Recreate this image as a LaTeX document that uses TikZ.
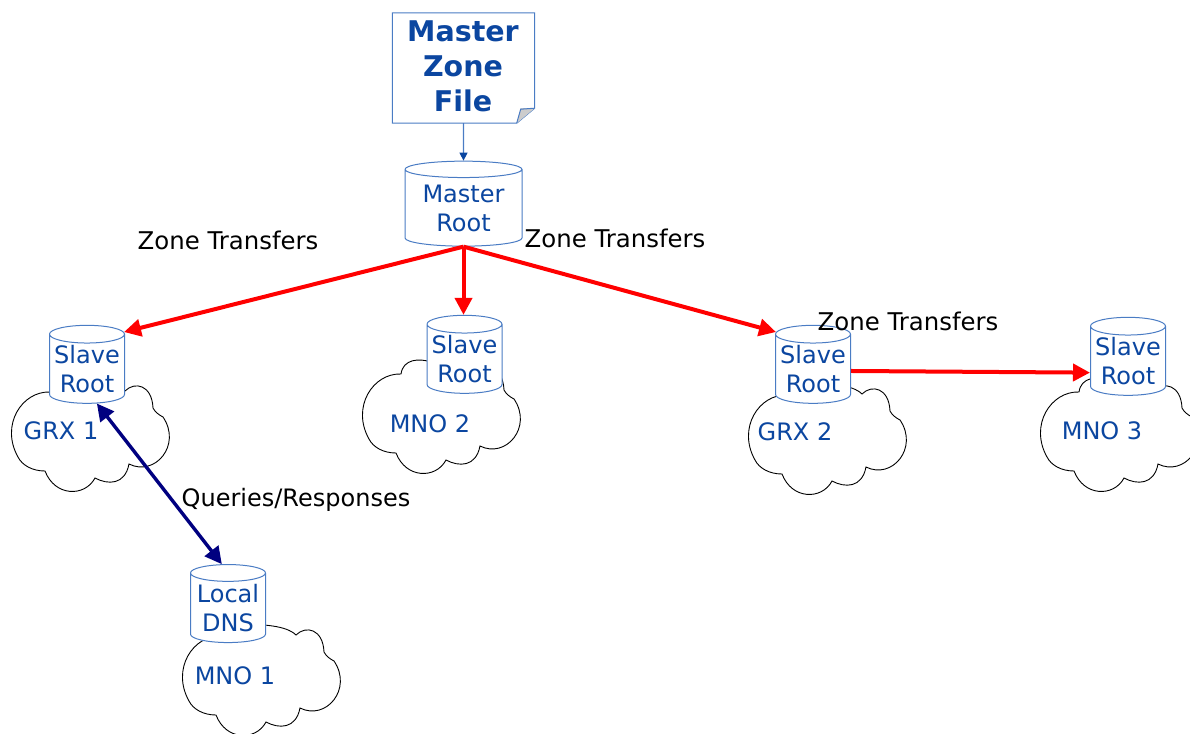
\documentclass[tikz,border=0pt]{standalone}
\usepackage{fontspec}
\setmainfont{DejaVu Sans}
\usetikzlibrary{shapes.geometric,arrows.meta}
\definecolor{txtblue}{HTML}{0B46A0}
\definecolor{lineblue}{HTML}{4A7CC4}
\definecolor{darknavy}{HTML}{000080}
\newcommand{\cloudat}[2]{%
  \draw[cloudline,shift={(#1,#2)}] (40,7) .. controls (12,6) and (-10,40) .. (8,72)
   .. controls (12,80) and (22,86) .. (35,86)
   .. controls (45,112) and (75,112) .. (85,93)
   .. controls (98,100) and (115,100) .. (119,79)
   .. controls (145,92) and (172,60) .. (153,32)
   .. controls (149,30) and (145,27) .. (143,23)
   .. controls (142,0) and (125,-4) .. (115,6)
   .. controls (105,-4) and (80,-4) .. (70,-5)
   .. controls (58,-9) and (42,-8) .. (40,7) -- cycle;}
\tikzset{
  cloudline/.style={draw=black,fill=white,line width=0.9pt},
  dbnode/.style={cylinder,shape border rotate=90,aspect=0.27,draw=lineblue,fill=white,line width=1pt,
    minimum width=75pt,minimum height=78pt,inner sep=0pt,align=center,text=txtblue,
    font=\fontsize{24}{29}\selectfont,execute at begin node={\rule{0pt}{24pt}}},
  cloudlabel/.style={text=txtblue,inner sep=0pt,font=\fontsize{24}{27}\selectfont},
  blacklabel/.style={text=black,inner sep=0pt,font=\fontsize{24.4}{27}\selectfont},
  redarrow/.style={draw=red,line width=4pt,-{Triangle[length=17pt,width=17pt]}},
  navyarrow/.style={draw=darknavy,line width=3.4pt,{Triangle[length=17pt,width=17pt]}-{Triangle[length=17pt,width=17pt]}},
  thinarrow/.style={draw=lineblue,line width=1.1pt,-{Triangle[length=8pt,width=8pt,color=txtblue]}}
}
\begin{document}
\begin{tikzpicture}[x=1pt,y=-1pt]
\useasboundingbox (0,0) rectangle (1190,733);
% clouds
\cloudat{10}{385}
\cloudat{361}{367}
\cloudat{747}{388}
\cloudat{1039}{385}
\cloudat{181}{629}
% file
\node[inner sep=0pt,minimum width=142pt,minimum height=110pt] (file) at (463.5,68) {};
\draw[draw=lineblue,fill=white,line width=1pt] (file.north west) -- (file.north east) -- ([yshift=15pt]file.south east) -- ([xshift=-18pt]file.south east) -- (file.south west) -- cycle;
\fill[gray!40] ([yshift=15pt]file.south east) -- ([xshift=-18pt]file.south east) -- ([xshift=-14pt,yshift=15pt]file.south east) -- cycle;
\draw[draw=lineblue,line width=1pt] ([yshift=15pt]file.south east) -- ([xshift=-14pt,yshift=14pt]file.south east) -- ([xshift=-18pt]file.south east);
\node[text=txtblue,align=center,inner sep=0pt,font=\fontsize{28.5}{35}\selectfont\bfseries] (filetext) at (463,66) {Master\\Zone\\File};
% databases
\node[dbnode,minimum width=117pt,minimum height=85pt,aspect=0.2] (master) at (463.5,208) {Master\\Root};
\node[dbnode] (grx1) at (87,369) {Slave\\Root};
\node[dbnode] (mno2) at (464.5,359) {Slave\\Root};
\node[dbnode] (grx2) at (813,369) {Slave\\Root};
\node[dbnode] (mno3) at (1128,361) {Slave\\Root};
\node[dbnode] (local) at (228,608) {Local\\DNS};
% cloud labels
\node[cloudlabel] (lgrx1) at (61,431) {GRX 1};
\node[cloudlabel] (lmno2) at (430,424) {MNO 2};
\node[cloudlabel] (lgrx2) at (795,432) {GRX 2};
\node[cloudlabel] (lmno3) at (1102,431) {MNO 3};
\node[cloudlabel] (lmno1) at (235,676) {MNO 1};
% connectors
\draw[thinarrow] (file.south) -- (master.north);
\draw[redarrow] (master.south) -- (grx1.45);
\draw[redarrow] (master.south) -- (master.south |- mno2.north);
\draw[redarrow] (master.south) -- (grx2.135);
\draw[redarrow] (grx2.-3) -- (mno3.197);
\draw[navyarrow] (grx1.-74) -- (local.98);
% labels
\node[blacklabel] (zt1) at (228,240) {Zone Transfers};
\node[blacklabel] (zt2) at (615,238) {Zone Transfers};
\node[blacklabel] (zt3) at (908,321) {Zone Transfers};
\node[blacklabel,font=\fontsize{24}{27}\selectfont] (qr) at (296,500) {Queries/Responses};
\end{tikzpicture}
\end{document}
